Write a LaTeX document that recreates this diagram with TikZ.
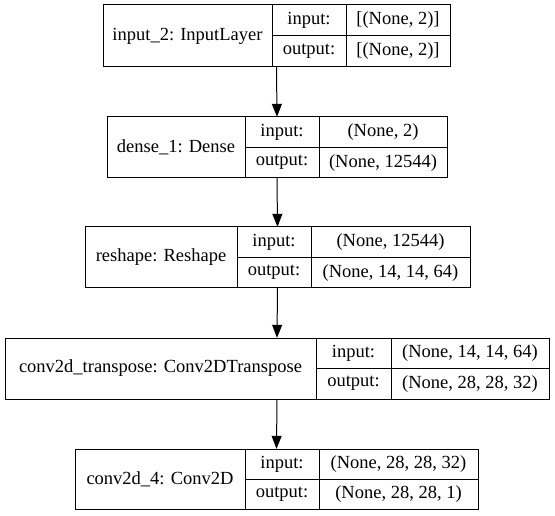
\documentclass[tikz,border=0pt]{standalone}
\usepackage{fontspec}
\setmainfont{Liberation Serif}
\usetikzlibrary{arrows.meta}
\tikzset{
  cell/.style={draw=black, line width=1pt, inner sep=0pt, anchor=center,
    font=\fontsize{18.5}{20}\selectfont},
  whole/.style={inner sep=0pt, anchor=center},
  flow/.style={draw=black, line width=1pt, -{Triangle[length=13pt,width=10pt]}}
}
\begin{document}
\begin{tikzpicture}[x=1pt,y=-1pt]
\useasboundingbox[fill=white] (0,0) rectangle (555,516);
% box 1
\node[whole, minimum width=347pt, minimum height=62pt] (b1) at (276.5,36) {};
\node[cell, minimum width=169pt, minimum height=62pt] (b1name) at (187.5,36) {input\_2: InputLayer};
\node[cell, minimum width=74pt, minimum height=31pt] (b1in) at (309,20.5) {input:};
\node[cell, minimum width=104pt, minimum height=31pt] (b1inv) at (398,20.5) {[(None, 2)]};
\node[cell, minimum width=74pt, minimum height=31pt] (b1out) at (309,51.5) {output:};
\node[cell, minimum width=104pt, minimum height=31pt] (b1outv) at (398,51.5) {[(None, 2)]};
% box 2
\node[whole, minimum width=340pt, minimum height=61pt] (b2) at (277,147.5) {};
\node[cell, minimum width=138pt, minimum height=61pt] (b2name) at (176,147.5) {dense\_1: Dense};
\node[cell, minimum width=74pt, minimum height=30.5pt] (b2in) at (282,132.25) {input:};
\node[cell, minimum width=128pt, minimum height=30.5pt] (b2inv) at (383,132.25) {(None, 2)};
\node[cell, minimum width=74pt, minimum height=30.5pt] (b2out) at (282,162.75) {output:};
\node[cell, minimum width=128pt, minimum height=30.5pt] (b2outv) at (383,162.75) {(None, 12544)};
% box 3
\node[whole, minimum width=385pt, minimum height=61pt] (b3) at (277.5,257.5) {};
\node[cell, minimum width=152pt, minimum height=61pt] (b3name) at (161,257.5) {reshape: Reshape};
\node[cell, minimum width=74pt, minimum height=30.5pt] (b3in) at (274,242.25) {input:};
\node[cell, minimum width=159pt, minimum height=30.5pt] (b3inv) at (390.5,242.25) {(None, 12544)};
\node[cell, minimum width=74pt, minimum height=30.5pt] (b3out) at (274,272.75) {output:};
\node[cell, minimum width=159pt, minimum height=30.5pt] (b3outv) at (390.5,272.75) {(None, 14, 14, 64)};
% box 4
\node[whole, minimum width=544pt, minimum height=61pt] (b4) at (277,368.5) {};
\node[cell, minimum width=311pt, minimum height=61pt] (b4name) at (160.5,368.5) {conv2d\_transpose: Conv2DTranspose};
\node[cell, minimum width=75pt, minimum height=30.5pt] (b4in) at (353.5,353.25) {input:};
\node[cell, minimum width=158pt, minimum height=30.5pt] (b4inv) at (470,353.25) {(None, 14, 14, 64)};
\node[cell, minimum width=75pt, minimum height=30.5pt] (b4out) at (353.5,383.75) {output:};
\node[cell, minimum width=158pt, minimum height=30.5pt] (b4outv) at (470,383.75) {(None, 28, 28, 32)};
% box 5
\node[whole, minimum width=403pt, minimum height=60pt] (b5) at (276.5,479) {};
\node[cell, minimum width=170pt, minimum height=60pt] (b5name) at (160,479) {conv2d\_4: Conv2D};
\node[cell, minimum width=74pt, minimum height=30pt] (b5in) at (282,464) {input:};
\node[cell, minimum width=159pt, minimum height=30pt] (b5inv) at (398.5,464) {(None, 28, 28, 32)};
\node[cell, minimum width=74pt, minimum height=30pt] (b5out) at (282,494) {output:};
\node[cell, minimum width=159pt, minimum height=30pt] (b5outv) at (398.5,494) {(None, 28, 28, 1)};
% arrows
\draw[flow] (b1.south) -- (b2.north);
\draw[flow] (b2.south) -- (b3.north);
\draw[flow] (b3.south) -- (b4.north);
\draw[flow] (b4.south) -- (b5.north);
\end{tikzpicture}
\end{document}
